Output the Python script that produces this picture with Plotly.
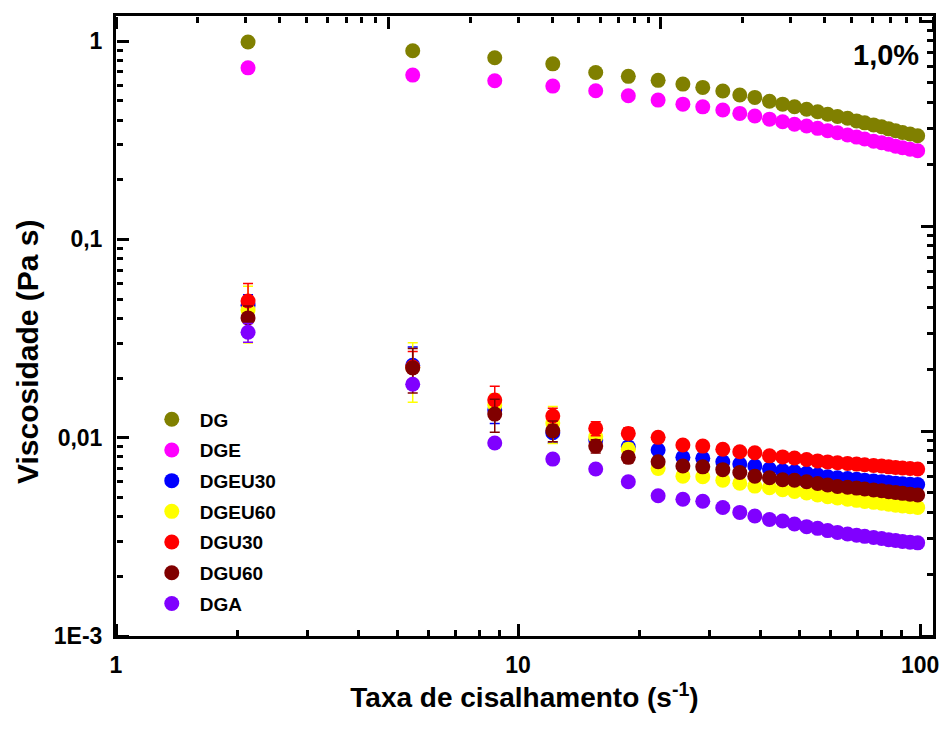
import plotly.graph_objects as go

# ---------------- data ----------------
shear_rate = [2.13, 5.47, 8.75, 12.2, 15.6, 18.8, 22.3, 25.7, 28.8, 32.3, 35.6, 38.8, 42.2, 45.5,
              48.7, 52.2, 55.6, 58.9, 62.3, 66.0, 69.5, 72.8, 76.6, 80.2, 83.5, 86.9, 90.4, 94.4, 98.6]

dg = [0.99, 0.894, 0.824, 0.768, 0.695, 0.664, 0.634, 0.607, 0.584, 0.560, 0.535, 0.520, 0.497, 0.481,
      0.467, 0.453, 0.440, 0.428, 0.417, 0.408, 0.396, 0.387, 0.378, 0.370, 0.361, 0.353, 0.346, 0.340, 0.333]
dge = [0.733, 0.674, 0.631, 0.593, 0.562, 0.530, 0.504, 0.481, 0.466, 0.449, 0.432, 0.419, 0.404, 0.392,
       0.381, 0.373, 0.363, 0.353, 0.345, 0.336, 0.328, 0.321, 0.313, 0.307, 0.302, 0.295, 0.290, 0.285, 0.280]
dgeu30 = [0.0466, 0.0232, 0.0138, 0.0106, 0.00973, 0.0090, 0.00867, 0.00796, 0.00787, 0.00756, 0.00736,
          0.00719, 0.00695, 0.00681, 0.00673, 0.00661, 0.00648, 0.00635, 0.00628, 0.00623, 0.00617,
          0.00611, 0.00605, 0.00599, 0.00594, 0.0059, 0.00586, 0.00583, 0.0058]
dgeu60 = [0.044, 0.0226, 0.0146, 0.01185, 0.0101, 0.00875, 0.0070, 0.0064, 0.00635, 0.00611, 0.00589,
          0.0057, 0.0056, 0.00546, 0.00536, 0.00526, 0.00514, 0.00504, 0.00497, 0.0049, 0.00483,
          0.00477, 0.00472, 0.00467, 0.00462, 0.00457, 0.00453, 0.00449, 0.00445]
dgu30 = [0.0489, 0.0227, 0.01548, 0.01286, 0.01114, 0.01051, 0.01004, 0.00918, 0.00907, 0.00875, 0.00849,
         0.00839, 0.0081, 0.0080, 0.0079, 0.00776, 0.00764, 0.00755, 0.00747, 0.00742, 0.00736,
         0.0073, 0.00725, 0.0072, 0.00713, 0.00708, 0.00704, 0.00699, 0.00695]
dgu60 = [0.0402, 0.0225, 0.01315, 0.01083, 0.00907, 0.00796, 0.00756, 0.0072, 0.00713, 0.0069, 0.00668,
         0.0064, 0.00628, 0.00614, 0.0061, 0.006, 0.00588, 0.00577, 0.00567, 0.00563, 0.00557,
         0.00551, 0.00545, 0.0054, 0.00534, 0.00529, 0.00524, 0.00519, 0.00514]
dga = [0.0340, 0.0186, 0.0094, 0.0078, 0.00695, 0.0060, 0.0051, 0.00489, 0.00478, 0.00445, 0.0042,
       0.00403, 0.00387, 0.0038, 0.00367, 0.00356, 0.00349, 0.0034, 0.00333, 0.00327, 0.00322,
       0.00318, 0.00314, 0.0031, 0.00306, 0.00303, 0.0030, 0.00297, 0.00295]

err_dgeu30 = [0.006, 0.0055, 0.002, 0.0012, 0.0006, 0.0004, 0.0003, 0.0003, 0.0002, 0.0002, 0.0002,
              0.0002, 0.0001, 0.0001, 0.0001, 0.0001, 0.0001, 0.0001, 0.0001, 0.0001, 0.0001,
              0.0001, 0.0001, 0.0001, 0.0001, 0.0001, 0.0001, 0.0001, 0.0001]
err_dgeu60 = [0.014, 0.0075, 0.002, 0.0025, 0.0008, 0.0006, 0.0004, 0.0003, 0.0003, 0.0002, 0.0002,
              0.0002, 0.0001, 0.0001, 0.0001, 0.0001, 0.0001, 0.0001, 0.0001, 0.0001, 0.0001,
              0.0001, 0.0001, 0.0001, 0.0001, 0.0001, 0.0001, 0.0001, 0.0001]
err_dgu30 = [0.011, 0.0045, 0.0027, 0.0012, 0.0009, 0.0007, 0.0005, 0.0003, 0.0003, 0.0002, 0.0002,
             0.0002, 0.0001, 0.0001, 0.0001, 0.0001, 0.0001, 0.0001, 0.0001, 0.0001, 0.0001,
             0.0001, 0.0001, 0.0001, 0.0001, 0.0001, 0.0001, 0.0001, 0.0001]
err_dgu60 = [0.006, 0.0057, 0.0025, 0.0013, 0.0007, 0.0005, 0.0004, 0.00035, 0.0003, 0.0003, 0.00025,
             0.00025, 0.0002, 0.0002, 0.0002, 0.0002, 0.0002, 0.00015, 0.00015, 0.00015, 0.00015,
             0.00015, 0.00015, 0.00015, 0.00015, 0.00015, 0.00015, 0.00015, 0.00015]
err_dga = [0.0037, 0.001, 0.0003, 0.0002, 0.0001, 0.0001, 0.0001, 0.0001, 0.0001, 0.0001, 0.0001,
           0.0001, 0.0001, 0.0001, 0.0001, 0.0001, 0.0001, 0.0001, 0.0001, 0.0001, 0.0001,
           0.0001, 0.0001, 0.0001, 0.0001, 0.0001, 0.0001, 0.0001, 0.0001]

series_names = ["DG", "DGE", "DGEU30", "DGEU60", "DGU30", "DGU60", "DGA"]
series_values = [dg, dge, dgeu30, dgeu60, dgu30, dgu60, dga]
series_errors = [None, None, err_dgeu30, err_dgeu60, err_dgu30, err_dgu60, err_dga]
series_colors = ["#808000", "#FF00FF", "#0000FF", "#FFFF00", "#FF0000", "#800000", "#8000FF"]

x_tickvals = [1, 10, 100]
x_ticktext = ["1", "10", "100"]
y_tickvals = [0.001, 0.01, 0.1, 1]
y_ticktext = ["1E-3", "0,01", "0,1", "1"]

# decade tick positions for the frame axes (majors and 2..9 minors)
decades = [0.001, 0.01, 0.1, 1, 10, 100, 1000]
minor_digits = [2, 3, 4, 5, 6, 7, 8, 9]

label_text = "1,0%"
x_title = "Taxa de cisalhamento (s<sup>-1</sup>)"
y_title = "Viscosidade (Pa s)"

# ---------------- figure ----------------
FONT = "Liberation Sans"
fig = go.Figure()

for name, vals, errs, col in zip(series_names, series_values, series_errors, series_colors):
    kw = {}
    if errs is not None:
        kw["error_y"] = dict(type="data", array=errs, visible=True, color=col, thickness=1.5, width=5)
    fig.add_trace(go.Scatter(
        x=shear_rate, y=vals, mode="markers", name=name, legendgroup=name,
        marker=dict(size=15, color=col, line=dict(width=0)), **kw))

# empty traces so that the tick-only frame axes get drawn
for xa, ya in [("x2", "y"), ("x3", "y"), ("x", "y2"), ("x", "y3")]:
    fig.add_trace(go.Scatter(x=[], y=[], xaxis=xa, yaxis=ya, mode="markers",
                             showlegend=False, hoverinfo="skip"))

W, H = 940, 729
L, R, T, B = 116, 7, 16, 93

minor_vals = [d * m for d in decades for m in minor_digits]


def tick_axis(**extra):
    # tick-only axis whose "outside" ticks point into the plot area
    d = dict(type="log", ticks="outside", ticklen=12, tickwidth=3, tickcolor="#000000",
             showgrid=False, zeroline=False, showline=False, showticklabels=False,
             tickvals=decades, anchor="free",
             minor=dict(tickmode="array", tickvals=minor_vals, ticks="outside",
                        ticklen=6, tickwidth=3, tickcolor="#000000", showgrid=False))
    d.update(extra)
    return d


X_RANGE = [0, 2.032]
Y_RANGE = [-3, 0.1266]

fig.update_layout(
    width=W, height=H,
    margin=dict(l=L, r=R, t=T, b=B, autoexpand=False),
    paper_bgcolor="white", plot_bgcolor="white",
    font=dict(family=FONT, color="black"),
    showlegend=True,
    legend=dict(x=0.034, y=0.38, xanchor="left", yanchor="top",
                bgcolor="rgba(0,0,0,0)", borderwidth=0,
                font=dict(family=FONT, size=19, color="black", weight="bold"),
                traceorder="grouped", tracegroupgap=3, itemwidth=46),
    xaxis=dict(type="log", range=X_RANGE, tickvals=x_tickvals, ticktext=x_ticktext,
               showline=True, linewidth=3, linecolor="black", mirror=True, ticks="",
               showgrid=False, zeroline=False, ticklabelstandoff=6,
               tickfont=dict(family=FONT, size=23, weight="bold"),
               title=dict(text=x_title, font=dict(family=FONT, size=28, weight="bold"), standoff=2)),
    yaxis=dict(type="log", range=Y_RANGE, tickvals=y_tickvals, ticktext=y_ticktext,
               showline=True, linewidth=3, linecolor="black", mirror=True, ticks="",
               showgrid=False, zeroline=False, ticklabelstandoff=6,
               tickfont=dict(family=FONT, size=23, weight="bold")),
    # bottom frame ticks (same scale as the bottom axis), pointing up
    xaxis3=tick_axis(range=X_RANGE, overlaying="x", side="top", position=0),
    # top frame ticks (own scale), pointing down
    xaxis2=tick_axis(range=[0, 3], overlaying="x", side="bottom", position=1),
    # left frame ticks (same scale as the left axis), pointing right
    yaxis3=tick_axis(range=Y_RANGE, overlaying="y", side="right", position=0),
    # right frame ticks (own scale), pointing left
    yaxis2=tick_axis(range=[-3, 0.0244], overlaying="y", side="left", position=1),
)

fig.add_annotation(text=y_title, xref="paper", yref="paper", x=(27 - L) / (W - L - R), y=0.458,
                   xanchor="center", yanchor="middle", textangle=-90, showarrow=False,
                   font=dict(family=FONT, size=30, color="black", weight="bold"))

fig.add_annotation(text=label_text, xref="paper", yref="paper", x=0.985, y=0.937,
                   xanchor="right", yanchor="middle", showarrow=False,
                   font=dict(family=FONT, size=29, color="black", weight="bold"))

fig.write_html("out.html")
